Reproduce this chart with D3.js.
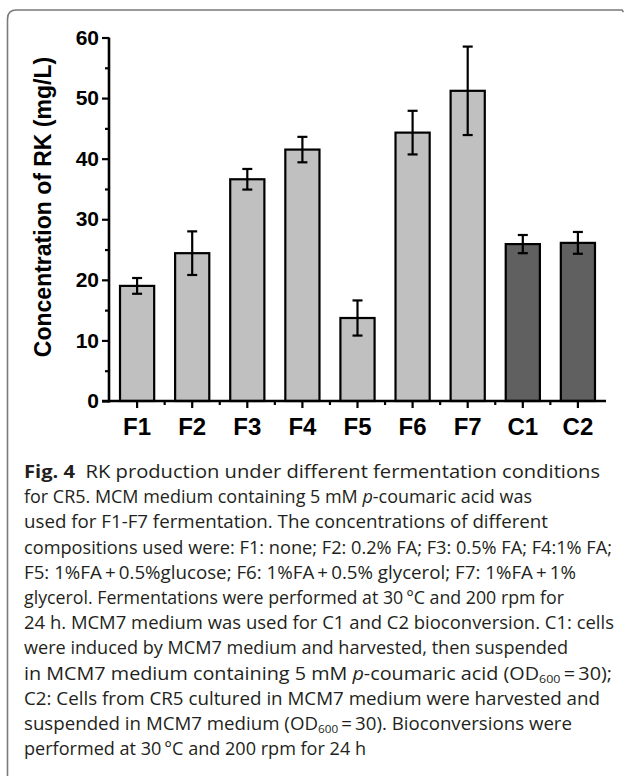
<!DOCTYPE html>
<html>
<head>
<meta charset="utf-8">
<script src="https://cdn.jsdelivr.net/npm/d3@7"></script>
<style>
  html, body { margin: 0; padding: 0; background: #fff; }
  svg { display: block; }
</style>
</head>
<body>
<svg id="chart" width="627" height="777"></svg>
<script>
// ---- data ----
const categories = ["F1", "F2", "F3", "F4", "F5", "F6", "F7", "C1", "C2"];
const values = [19.0, 24.4, 36.6, 41.5, 13.7, 44.3, 51.2, 25.9, 26.1];
const errors = [1.3, 3.6, 1.7, 2.1, 2.9, 3.6, 7.3, 1.5, 1.8];
const groups = ["F", "F", "F", "F", "F", "F", "F", "C", "C"];
const yTicks = [0, 10, 20, 30, 40, 50, 60];
const yMinorTicks = [5, 15, 25, 35, 45, 55];
const yTitle = "Concentration of RK (mg/L)";
// caption lines: segments [text, style]  (b = bold, i = italic, s = subscript)
const captionLines = [
  [["Fig. 4", "b"], ["  RK production under different fermentation conditions", ""]],
  [["for CR5. MCM medium containing 5 mM ", ""], ["p", "i"], ["-coumaric acid was", ""]],
  [["used for F1-F7 fermentation. The concentrations of different", ""]],
  [["compositions used were: F1: none; F2: 0.2% FA; F3: 0.5% FA; F4:1% FA;", ""]],
  [["F5: 1%FA\u2009+\u20090.5%glucose; F6: 1%FA\u2009+\u20090.5% glycerol; F7: 1%FA\u2009+\u20091%", ""]],
  [["glycerol. Fermentations were performed at 30\u2009\u00b0C and 200 rpm for", ""]],
  [["24 h. MCM7 medium was used for C1 and C2 bioconversion. C1: cells", ""]],
  [["were induced by MCM7 medium and harvested, then suspended", ""]],
  [["in MCM7 medium containing 5 mM ", ""], ["p", "i"], ["-coumaric acid (OD", ""], ["600", "s"], ["\u2009=\u200930);", ""]],
  [["C2: Cells from CR5 cultured in MCM7 medium were harvested and", ""]],
  [["suspended in MCM7 medium (OD", ""], ["600", "s"], ["\u2009=\u200930). Bioconversions were", ""]],
  [["performed at 30\u2009\u00b0C and 200 rpm for 24 h", ""]]
];
const captionEnds = [600, 532, 548, 612, 576, 564, 614, 568, 612, 600, 572, 366];

// ---- drawing ----
const svg = d3.select("#chart");
const fillFor = { F: "#c0c0c0", C: "#606060" };

// frame
svg.append("path")
  .attr("d", "M7.5,776 L7.5,19 Q7.5,10 16.5,10 L622,10 L623.5,12")
  .attr("fill", "none").attr("stroke", "#7a7a7a").attr("stroke-width", 1.6);

const x = d3.scaleBand().domain(categories).range([109, 606]).paddingInner(0.38).paddingOuter(0.2);
const y = d3.scaleLinear().domain([0, 60]).range([401, 37.5]);

const data = categories.map((c, i) => ({ c, v: values[i], e: errors[i], g: groups[i] }));

// bars
svg.append("g").selectAll("rect").data(data).join("rect")
  .attr("x", d => x(d.c)).attr("y", d => y(d.v))
  .attr("width", x.bandwidth()).attr("height", d => y(0) - y(d.v))
  .attr("fill", d => fillFor[d.g]).attr("stroke", "#000").attr("stroke-width", 2.2);

// error bars
const eb = svg.append("g").attr("stroke", "#000").attr("stroke-width", 2.2);
data.forEach(d => {
  const cx = x(d.c) + x.bandwidth() / 2;
  eb.append("line").attr("x1", cx).attr("x2", cx).attr("y1", y(d.v + d.e)).attr("y2", y(d.v - d.e));
  eb.append("line").attr("x1", cx - 5).attr("x2", cx + 5).attr("y1", y(d.v + d.e)).attr("y2", y(d.v + d.e));
  eb.append("line").attr("x1", cx - 5).attr("x2", cx + 5).attr("y1", y(d.v - d.e)).attr("y2", y(d.v - d.e));
});

// y axis
const yAxis = d3.axisLeft(y).tickValues(yTicks).tickSize(7).tickPadding(3).tickFormat(d3.format("d"));
const gy = svg.append("g").attr("transform", "translate(109,0)").call(yAxis);
gy.select(".domain").remove();
gy.selectAll(".tick line").attr("stroke", "#000").attr("stroke-width", 2.2);
gy.selectAll(".tick text").attr("font-family", "'Liberation Sans', Arial, sans-serif")
  .attr("font-weight", "bold").attr("font-size", 21).attr("fill", "#000");
const yMinor = d3.axisLeft(y).tickValues(yMinorTicks).tickSize(4).tickFormat("");
const gym = svg.append("g").attr("transform", "translate(109,0)").call(yMinor);
gym.select(".domain").remove();
gym.selectAll(".tick line").attr("stroke", "#000").attr("stroke-width", 2.2);
svg.append("line").attr("x1", 109).attr("x2", 109).attr("y1", y(60)).attr("y2", 402.5)
  .attr("stroke", "#000").attr("stroke-width", 2.6);

// x axis
const xAxis = d3.axisBottom(x).tickSize(7).tickPadding(10);
const gx = svg.append("g").attr("transform", "translate(0,401)").call(xAxis);
gx.select(".domain").remove();
gx.selectAll(".tick line").attr("stroke", "#000").attr("stroke-width", 2.2);
gx.selectAll(".tick text").attr("font-family", "'Liberation Sans', Arial, sans-serif")
  .attr("font-weight", "bold").attr("font-size", 24).attr("fill", "#000");
// minor x ticks between bars
const step = x.step();
const minorX = categories.slice(1).map(c => x(c) - step * x.paddingInner() / 2);
svg.append("g").selectAll("line").data(minorX).join("line")
  .attr("x1", d => d).attr("x2", d => d).attr("y1", 401).attr("y2", 405)
  .attr("stroke", "#000").attr("stroke-width", 2.2);
svg.append("line").attr("x1", 102).attr("x2", 606).attr("y1", 401).attr("y2", 401)
  .attr("stroke", "#000").attr("stroke-width", 2.6);

// y title
svg.append("text")
  .attr("transform", "translate(51,207) rotate(-90)")
  .attr("text-anchor", "middle")
  .attr("font-family", "'Liberation Sans', Arial, sans-serif")
  .attr("font-weight", "bold").attr("font-size", 23).attr("fill", "#000")
  .text(yTitle);

// caption
const cap = svg.append("g").attr("font-family", "'Open Sans', 'Noto Sans', sans-serif")
  .attr("font-size", 17.5).attr("fill", "#231f20");
captionLines.forEach((segs, i) => {
  const t = cap.append("text").attr("x", 24).attr("y", 478 + i * 25.2)
    .attr("textLength", captionEnds[i] - 24).attr("lengthAdjust", "spacingAndGlyphs")
    .attr("xml:space", "preserve").style("white-space", "pre");
  let shifted = false;
  segs.forEach(([txt, st]) => {
    const ts = t.append("tspan").text(txt);
    if (st === "b") ts.attr("font-weight", "bold");
    if (st === "i") ts.attr("font-style", "italic");
    if (st === "s") { ts.attr("font-size", 11).attr("dy", 3); shifted = true; }
    else if (shifted) { ts.attr("dy", -3); shifted = false; }
  });
});
</script>
</body>
</html>
